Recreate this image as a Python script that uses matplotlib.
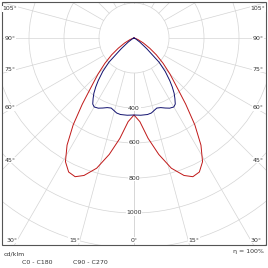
import numpy as np
import matplotlib.pyplot as plt
from matplotlib.patches import Rectangle, Circle

# luminous intensity, cd/klm
gamma_c0 = [0, 4, 8, 12, 16, 20, 23, 26, 29, 32, 35, 38, 40, 42, 45, 49, 53, 57, 62, 68, 75, 90, 180]
c0_c180 = [440, 479, 579, 680, 774, 836, 861, 852, 808, 722, 606, 480, 405, 350, 290, 220, 160, 107, 60, 25, 8, 0, 0]

gamma_c90 = [0, 5, 10, 13, 16, 18, 21, 24, 27, 30, 32, 34, 36, 38, 40, 43, 46, 50, 55, 60, 68, 90, 180]
c90_c270 = [440, 443, 444, 440, 428, 421, 426, 438, 450, 455, 445, 418, 390, 355, 318, 262, 200, 95, 40, 15, 4, 0, 0]

rings = [200, 400, 600, 800, 1000, 1200, 1400]
ring_labels = [400, 600, 800, 1000]
angle_ticks = [0, 15, 30, 45, 60, 75, 90, 105]

PX = 0.175          # pixels per cd/klm
OX, OY = 134, 38    # origin in pixels


def to_data(px, py):
    return (px - OX) / PX, (OY - py) / PX


fig = plt.figure(figsize=(2.68, 2.68), dpi=100)
ax = fig.add_axes([0, 0, 1, 1])
ax.set_xlim(to_data(0, 0)[0], to_data(268, 0)[0])
ax.set_ylim(to_data(0, 268)[1], to_data(0, 0)[1])
ax.axis('off')

x0, y0 = to_data(2, 245)
frame = Rectangle((x0, y0), 264 / PX, 243 / PX, fill=False, lw=0.8, ec='#555555', zorder=5)
ax.add_patch(frame)

grid_c = '#d4d4d4'
for r in rings:
    c = Circle((0, 0), r, fill=False, ec=grid_c, lw=0.5, zorder=1)
    ax.add_patch(c)
    c.set_clip_path(frame)

for g in range(0, 181, 15):
    s, co = np.sin(np.radians(g)), np.cos(np.radians(g))
    for side in (-1, 1):
        ln, = ax.plot([side * 200 * s, side * 3000 * s], [-200 * co, -3000 * co],
                      color=grid_c, lw=0.5, zorder=1)
        ln.set_clip_path(frame)

lab = dict(fontsize=4.5, color='#333333', zorder=6)
box = dict(boxstyle='square,pad=0.1', fc='white', ec='none')

for g in angle_ticks:
    t = np.tan(np.radians(g))
    if g >= 45:
        if g == 90:
            py = OY
        else:
            py = max(OY + 124 / t - 2, 9)
        for px in (10, 258):
            ax.text(*to_data(px, py), f'{g}°', ha='center', va='center', bbox=box, **lab)
    else:
        dx = 202 * t
        if g == 0:
            ax.text(*to_data(OX, 240), '0°', ha='center', va='center', bbox=box, **lab)
        else:
            ax.text(*to_data(OX - dx, 240), f'{g}°', ha='right', va='center', bbox=box, **lab)
            ax.text(*to_data(OX + dx, 240), f'{g}°', ha='left', va='center', bbox=box, **lab)

for r in ring_labels:
    ax.text(0, -r, str(r), ha='center', va='center', bbox=box, **lab)


def draw_curve(gam, val, color):
    g = np.radians(np.array(gam, dtype=float))
    v = np.array(val, dtype=float)
    xs = np.concatenate([-(v * np.sin(g))[::-1], v * np.sin(g)])
    ys = np.concatenate([-(v * np.cos(g))[::-1], -v * np.cos(g)])
    ax.plot(xs, ys, color=color, lw=0.7, zorder=3)


draw_curve(gamma_c0, c0_c180, '#c01818')
draw_curve(gamma_c90, c90_c270, '#10106e')

ax.text(*to_data(4, 254), 'cd/klm', ha='left', va='center', **lab)
ax.text(*to_data(22, 262), 'C0 - C180', ha='left', va='center', **lab)
ax.text(*to_data(73, 262), 'C90 - C270', ha='left', va='center', **lab)
ax.text(*to_data(264, 252), 'η = 100%', ha='right', va='center', **lab)

fig.savefig('out.png', dpi=100)
